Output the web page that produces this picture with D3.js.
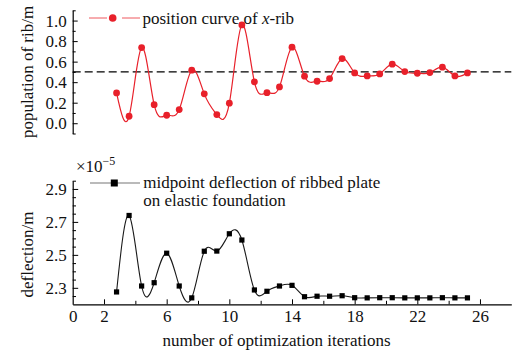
<!DOCTYPE html>
<html>
<head>
<meta charset="utf-8">
<script src="https://cdn.jsdelivr.net/npm/d3@7"></script>
<style>
  html, body { margin: 0; padding: 0; background: #fff; }
  svg { display: block; }
  text { font-family: "Liberation Serif", "Times New Roman", serif; fill: #111; }
</style>
</head>
<body>
<svg id="chart" width="527" height="356"></svg>
<script>
// ---- data ----
const iterations = [2.8, 3.6, 4.4, 5.2, 6.0, 6.8, 7.6, 8.4, 9.2, 10.0, 10.8, 11.6, 12.4, 13.2, 14.0,
  14.8, 15.6, 16.4, 17.2, 18.0, 18.8, 19.6, 20.4, 21.2, 22.0, 22.8, 23.6, 24.4, 25.2];
const ribPosition = [0.295, 0.068, 0.737, 0.181, 0.078, 0.133, 0.517, 0.286, 0.084, 0.195, 0.958, 0.403,
  0.298, 0.354, 0.741, 0.458, 0.409, 0.435, 0.630, 0.490, 0.461, 0.480, 0.575, 0.503, 0.487, 0.493,
  0.546, 0.461, 0.490];
const deflection = [2.275, 2.739, 2.311, 2.331, 2.510, 2.311, 2.239, 2.522, 2.523, 2.628, 2.590, 2.287,
  2.279, 2.311, 2.315, 2.246, 2.249, 2.249, 2.252, 2.240, 2.239, 2.240, 2.240, 2.239, 2.239, 2.239,
  2.240, 2.239, 2.239];
const referenceLine = 0.5;
const xTickLabels = [0, 2, 6, 10, 14, 18, 22, 26];
const xMinorTicks = [4, 8, 12, 16, 20, 24];
const topMajorTicks = [0.0, 0.2, 0.4, 0.6, 0.8, 1.0];
const topMinorTicks = [-0.1, 0.1, 0.3, 0.5, 0.7, 0.9, 1.1];
const botMajorTicks = [2.3, 2.5, 2.7, 2.9];
const botMinorTicks = [2.25, 2.35, 2.4, 2.45, 2.55, 2.6, 2.65, 2.75, 2.8, 2.85, 2.95];
const legendTop = "position curve of ";
const legendBot = ["midpoint deflection of ribbed plate", "on elastic foundation"];

// ---- layout ----
const svg = d3.select("#chart");
const RED = "#e8202a";
const FS = 17;

const x = d3.scaleLinear().domain([0, 28]).range([72.7, 511.3]);
const yTop = d3.scaleLinear().domain([-0.1, 1.1]).range([133.5, 10.3]);
const yBot = d3.scaleLinear().domain([2.2, 2.95]).range([304.3, 180.7]);

function styleAxis(g) {
  g.selectAll("path.domain").attr("stroke", "#000").attr("stroke-width", 1.2);
  g.selectAll(".tick line").attr("stroke", "#000").attr("stroke-width", 1);
  g.selectAll("text").attr("font-size", FS).attr("font-family", '"Liberation Serif", "Times New Roman", serif').attr("fill", "#111");
}

// ---- top panel ----
const gTopAxis = svg.append("g").attr("transform", `translate(${x(0)},0)`)
  .call(d3.axisLeft(yTop).tickValues(topMajorTicks).tickSize(-5).tickSizeOuter(0).tickPadding(6)
    .tickFormat(d3.format(".1f")));
styleAxis(gTopAxis);
const gTopMinor = svg.append("g").attr("transform", `translate(${x(0)},0)`)
  .call(d3.axisLeft(yTop).tickValues(topMinorTicks).tickSize(-3).tickFormat(""));
gTopMinor.select("path.domain").remove();
styleAxis(gTopMinor);

svg.append("line")
  .attr("x1", x(0)).attr("x2", x(28))
  .attr("y1", yTop(referenceLine)).attr("y2", yTop(referenceLine))
  .attr("stroke", "#000").attr("stroke-width", 1.3).attr("stroke-dasharray", "8,4");

const topData = iterations.map((v, i) => [v, ribPosition[i]]);
svg.append("path")
  .datum(topData)
  .attr("fill", "none").attr("stroke", RED).attr("stroke-width", 1.2)
  .attr("d", d3.line().x(d => x(d[0])).y(d => yTop(d[1])).curve(d3.curveNatural));
svg.append("g").selectAll("circle").data(topData).join("circle")
  .attr("cx", d => x(d[0])).attr("cy", d => yTop(d[1])).attr("r", 3.4).attr("fill", RED);

svg.append("text")
  .attr("transform", `translate(33,${(yTop(1.1) + yTop(-0.1)) / 2}) rotate(-90)`)
  .attr("text-anchor", "middle").attr("font-size", FS)
  .text("population of rib/m");

// top legend
svg.append("line").attr("x1", 89).attr("x2", 107).attr("y1", 18).attr("y2", 18)
  .attr("stroke", RED).attr("stroke-width", 1).attr("stroke-opacity", 0.75);
svg.append("line").attr("x1", 122).attr("x2", 140).attr("y1", 18).attr("y2", 18)
  .attr("stroke", RED).attr("stroke-width", 1).attr("stroke-opacity", 0.75);
svg.append("circle").attr("cx", 112.7).attr("cy", 18).attr("r", 3.8).attr("fill", RED);
const lt = svg.append("text").attr("x", 142.5).attr("y", 24).attr("font-size", FS);
lt.append("tspan").text(legendTop);
lt.append("tspan").attr("font-style", "italic").text("x");
lt.append("tspan").text("-rib");

// ---- bottom panel ----
const gBotAxis = svg.append("g").attr("transform", `translate(${x(0)},0)`)
  .call(d3.axisLeft(yBot).tickValues(botMajorTicks).tickSize(-5.5).tickSizeOuter(0).tickPadding(6)
    .tickFormat(d3.format(".1f")));
styleAxis(gBotAxis);
const gBotMinor = svg.append("g").attr("transform", `translate(${x(0)},0)`)
  .call(d3.axisLeft(yBot).tickValues(botMinorTicks).tickSize(-3.3).tickFormat(""));
gBotMinor.select("path.domain").remove();
styleAxis(gBotMinor);

const gX = svg.append("g").attr("transform", `translate(0,${yBot(2.2)})`)
  .call(d3.axisBottom(x).tickValues(xTickLabels).tickSize(-5).tickSizeOuter(0).tickPadding(6)
    .tickFormat(d3.format("d")));
styleAxis(gX);
gX.selectAll(".tick").filter(d => d === 0).select("line").remove();
const gXMinor = svg.append("g").attr("transform", `translate(0,${yBot(2.2)})`)
  .call(d3.axisBottom(x).tickValues(xMinorTicks).tickSize(-3.5).tickFormat(""));
gXMinor.select("path.domain").remove();
styleAxis(gXMinor);

const botData = iterations.map((v, i) => [v, deflection[i]]);
svg.append("path")
  .datum(botData)
  .attr("fill", "none").attr("stroke", "#1a1a1a").attr("stroke-width", 1.1)
  .attr("d", d3.line().x(d => x(d[0])).y(d => yBot(d[1])).curve(d3.curveNatural));
svg.append("g").selectAll("rect").data(botData).join("rect")
  .attr("x", d => x(d[0]) - 2.6).attr("y", d => yBot(d[1]) - 2.6)
  .attr("width", 5.2).attr("height", 5.2).attr("fill", "#000");

svg.append("text")
  .attr("transform", `translate(33,${(yBot(2.2) + yBot(2.95)) / 2 + 12}) rotate(-90)`)
  .attr("text-anchor", "middle").attr("font-size", FS)
  .text("deflection/m");

svg.append("text")
  .attr("x", 276.5).attr("y", 345.5)
  .attr("text-anchor", "middle").attr("font-size", FS)
  .text("number of optimization iterations");

const exp = svg.append("text").attr("x", 76).attr("y", 172).attr("font-size", FS);
exp.append("tspan").text("×10");
exp.append("tspan").attr("font-size", 12).attr("dy", -7).text("−5");

// bottom legend
svg.append("line").attr("x1", 90).attr("x2", 140).attr("y1", 183).attr("y2", 183)
  .attr("stroke", "#777").attr("stroke-width", 1.2);
svg.append("rect").attr("x", 114.3 - 3.5).attr("y", 183 - 3.5).attr("width", 7).attr("height", 7).attr("fill", "#000");
svg.append("text").attr("x", 143.3).attr("y", 188).attr("font-size", FS).text(legendBot[0]);
svg.append("text").attr("x", 143.3).attr("y", 205.5).attr("font-size", FS).text(legendBot[1]);
</script>
</body>
</html>
